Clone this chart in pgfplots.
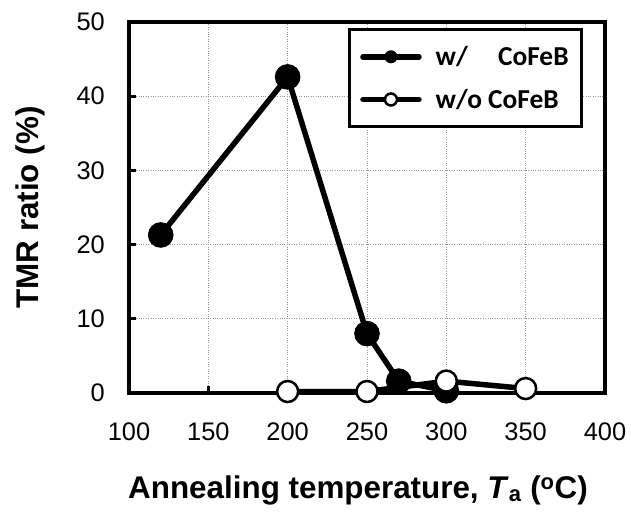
\documentclass[border=0pt]{standalone}
\usepackage{fontspec}
\setmainfont{Liberation Sans}
\newfontfamily\calibri{Carlito}
\usepackage{pgfplots}
\pgfplotsset{compat=1.18}
\begin{document}
\begin{tikzpicture}
\begin{axis}[
    scale only axis,
    width=476bp, height=371bp,
    xmin=100, xmax=400, ymin=0, ymax=50,
    xtick={100,150,...,400}, ytick={0,10,...,50},
    tick align=inside, xtick pos=bottom, ytick pos=left,
    major tick length=7bp,
    tick style={line width=3bp, black},
    axis line style={line width=4bp},
    grid=major,
    grid style={dotted, gray!80, line width=0.8bp},
    /pgf/number format/assume math mode=true,
    ticklabel style={font=\fontsize{25.5}{25.5}\selectfont, inner sep=0pt},
    xticklabel style={anchor=north, yshift=-30bp},
    yticklabel style={anchor=east, xshift=-24bp},
    xlabel={\bfseries Annealing temperature, \textit{T}\textsubscript{a} (\textsuperscript{o}C)},
    ylabel={\bfseries TMR ratio (\%)},
    label style={font=\fontsize{31.5}{31.5}\selectfont},
    xlabel style={at={(rel axis cs:0.5,0)}, anchor=center, yshift=-97bp, xshift=-9bp},
    ylabel style={at={(rel axis cs:0,0.5)}, anchor=center, yshift=99bp},
    legend style={at={(rel axis cs:0.954,0.984)}, anchor=north east, draw=black, line width=3bp,
        font=\calibri\bfseries\fontsize{27.5}{27.5}\selectfont, row sep=18bp, column sep=12bp,
        inner xsep=11bp, inner ysep=15bp, nodes={inner sep=2bp}},
    legend cell align=left,
    legend image code/.code={
        \draw[#1, line cap=round] (0bp,0bp) -- (56bp,0bp);
        \draw[#1, only marks, mark size=6bp] plot coordinates {(28bp,0bp)};
    },
]
\addplot[black, line width=5.5bp, mark=*, mark size=12.3bp, mark options={fill=black, line width=1bp}]
    coordinates {(120,21.3) (200,42.6) (250,8.0) (270,1.6) (300,0.3)};
\addlegendentry{w/\hspace{1.1em}CoFeB}
\addplot[black, line width=5.5bp, mark=*, mark size=10.5bp, mark options={fill=white, line width=2.5bp}]
    coordinates {(200,0.2) (250,0.2) (300,1.6) (350,0.6)};
\addlegendentry{w/o CoFeB}
\end{axis}
\pgfresetboundingbox
\path ([xshift=-129bp,yshift=-119bp]current axis.south west) rectangle ([xshift=26bp,yshift=22bp]current axis.north east);
\end{tikzpicture}
\end{document}
